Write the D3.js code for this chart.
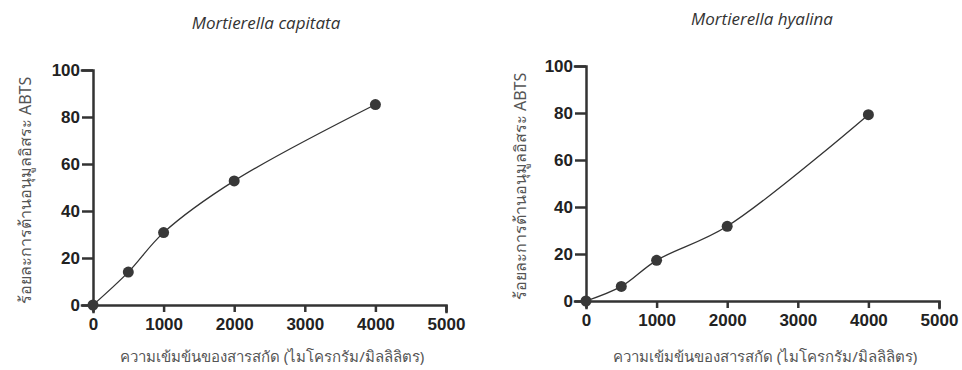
<!DOCTYPE html>
<html>
<head>
<meta charset="utf-8">
<script src="https://cdn.jsdelivr.net/npm/d3@7"></script>
<style>
  body { margin: 0; background: #fff; }
  .tick text { font-family: "Liberation Sans", Arial, sans-serif; font-weight: bold; font-size: 17px; fill: #222; }
  .domain, .tick line { stroke: #333; stroke-width: 2.5; }
</style>
</head>
<body>
<div class="chart"></div>
<script>
// concentrations (ug/mL) and ABTS scavenging (%)
const concentrations = [0, 500, 1000, 2000, 4000];
const capitata = [0, 14, 30.8, 52.8, 85.3];
const hyalina = [0, 6.2, 17.3, 31.8, 79.3];
const xTicks = [0, 1000, 2000, 3000, 4000, 5000];
const yTicks = [0, 20, 40, 60, 80, 100];

const titles = ["Mortierella capitata", "Mortierella hyalina"];
const xLabel = "ความเข้มข้นของสารสกัด (ไมโครกรัม/มิลลิลิตร)";
const yLabel = "ร้อยละการต้านอนุมูลอิสระ ABTS";

const width = 962;
const height = 370;

const svg = d3.select('.chart')
  .append('svg')
  .attr('width', width)
  .attr('height', height)

const panels = [
  {title: titles[0], values: capitata, left: 93, top: 70, bottom: 305, titleX: 266, titleY: 29, xlabX: 272, ylabX: 31},
  {title: titles[1], values: hyalina, left: 586, top: 66, bottom: 301, titleX: 762, titleY: 25, xlabX: 765, ylabX: 526}
];

panels.forEach(p => {
  const x = d3.scaleLinear().domain([0, 5000]).range([p.left, p.left + 353]);
  const y = d3.scaleLinear().domain([0, 100]).range([p.bottom, p.top]);
  const g = svg.append('g');

  g.append('g')
    .attr('transform', `translate(0,${p.bottom})`)
    .call(d3.axisBottom(x).tickValues(xTicks).tickSize(7).tickPadding(6).tickFormat(d3.format('d')));

  g.append('g')
    .attr('transform', `translate(${p.left},0)`)
    .call(d3.axisLeft(y).tickValues(yTicks).tickSize(11).tickPadding(2));

  g.selectAll('.domain').attr('stroke-linecap', 'square');

  const pts = concentrations.map((c, i) => [c, p.values[i]]);
  const line = d3.line()
    .x(d => x(d[0]))
    .y(d => y(d[1]))
    .curve(d3.curveCatmullRom.alpha(0.5));

  g.append('path')
    .datum(pts)
    .attr('d', line)
    .attr('fill', 'none')
    .attr('stroke', '#333')
    .attr('stroke-width', 1.3);

  g.selectAll('circle')
    .data(pts)
    .enter()
    .append('circle')
    .attr('cx', d => x(d[0]))
    .attr('cy', d => y(d[1]))
    .attr('r', 5.5)
    .attr('fill', '#383838');

  g.append('text')
    .attr('x', p.titleX)
    .attr('y', p.titleY)
    .attr('text-anchor', 'middle')
    .attr('font-family', '"Open Sans", sans-serif')
    .attr('font-style', 'italic')
    .attr('font-size', 17)
    .attr('fill', '#333')
    .text(p.title);

  g.append('text')
    .attr('x', p.xlabX)
    .attr('y', 362)
    .attr('text-anchor', 'middle')
    .attr('font-family', '"Noto Sans", sans-serif')
    .attr('font-size', 15)
    .attr('fill', '#555')
    .text(xLabel);

  g.append('text')
    .attr('transform', `translate(${p.ylabX},${(p.top + p.bottom) / 2 + 3}) rotate(-90)`)
    .attr('text-anchor', 'middle')
    .attr('font-family', '"Noto Sans", sans-serif')
    .attr('font-size', 16)
    .attr('fill', '#555')
    .text(yLabel);
});
</script>
</body>
</html>
